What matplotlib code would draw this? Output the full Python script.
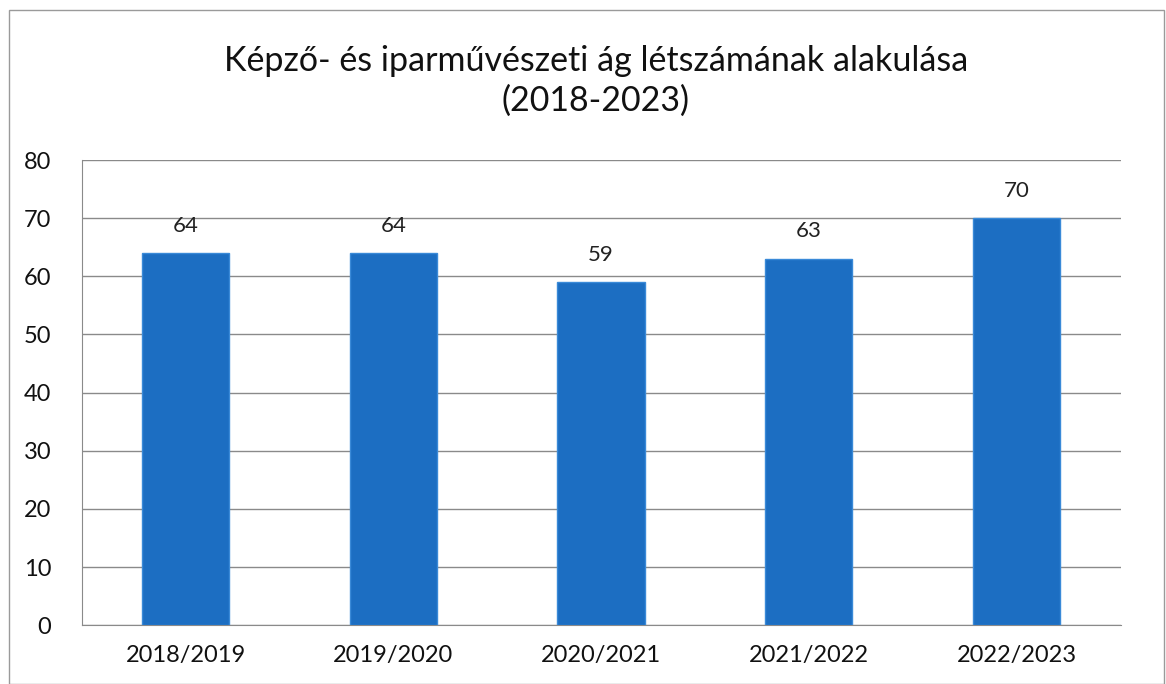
import matplotlib.pyplot as plt
import numpy as np

# adatok
categories = ['2018/2019', '2019/2020', '2020/2021', '2021/2022', '2022/2023']
values = [64, 64, 59, 63, 70]
yticks = [0, 10, 20, 30, 40, 50, 60, 70, 80]

plt.rcParams['font.family'] = ['Lato', 'DejaVu Sans']

fig = plt.figure(figsize=(11.66, 6.84), dpi=100)
ax = fig.add_axes([0.070, 0.086, 0.891, 0.680])

x = np.arange(len(categories))
bars = ax.bar(x, values, width=0.42, color='#1c6ec2', edgecolor='#3a8ad8', linewidth=1.0, zorder=3)

for b, v in zip(bars, values):
    ax.text(b.get_x() + b.get_width() / 2, v + 3, str(v), ha='center', va='bottom',
            fontsize=16, color='#222222')

ax.set_xlim(-0.5, len(categories) - 0.5)
ax.set_ylim(0, 80)
ax.set_yticks(yticks)
ax.set_xticks(x)
ax.set_xticklabels(categories)
ax.tick_params(axis='both', length=0, labelsize=17, colors='#111111')
ax.tick_params(axis='y', pad=22)
ax.tick_params(axis='x', pad=14)
ax.grid(axis='y', color='#8a8a8a', linewidth=1.0, zorder=0)

for s in ['top', 'right']:
    ax.spines[s].set_visible(False)
ax.spines['left'].set_color('#8a8a8a')
ax.spines['bottom'].set_color('#8a8a8a')

fig.text(0.511, 0.882, 'Képző- és iparművészeti ág létszámának alakulása\n(2018-2023)',
         ha='center', va='center', fontsize=24.5, linespacing=1.3, color='#111111')

# keret
fig.patches.append(plt.Rectangle((0.008, 0.0), 0.99, 0.985, transform=fig.transFigure,
                                 fill=False, edgecolor='#9a9a9a', linewidth=1.0))

plt.savefig('out.png', dpi=100)
